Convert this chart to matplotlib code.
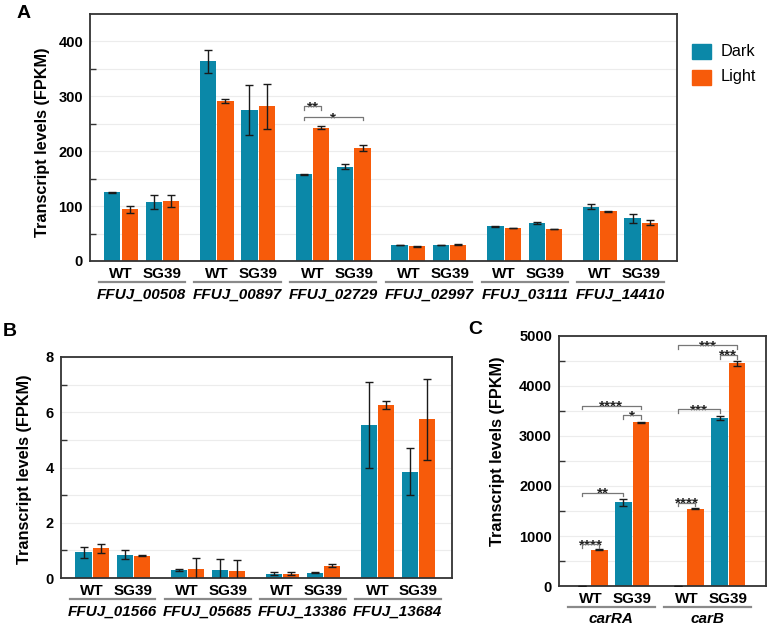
import matplotlib
matplotlib.use("Agg")
import matplotlib.pyplot as plt
import matplotlib.transforms as mtransforms
from matplotlib.patches import Rectangle
from matplotlib.lines import Line2D
import numpy as np

plt.rcParams['font.family'] = ['Liberation Sans', 'DejaVu Sans']

# ---------------- data ----------------
genesA = ['FFUJ_00508', 'FFUJ_00897', 'FFUJ_02729', 'FFUJ_02997', 'FFUJ_03111', 'FFUJ_14410']
A_wt_dark = [125, 364, 158, 29, 63, 99]
A_wt_dark_err = [1.5, 21, 1, 0.5, 0.8, 4]
A_wt_light = [94, 291, 243, 26.5, 60, 91]
A_wt_light_err = [6, 4, 3, 0.5, 0.5, 1]
A_sg_dark = [107, 275, 172, 29, 69, 78]
A_sg_dark_err = [13, 46, 4, 0.5, 2.5, 8]
A_sg_light = [110, 282, 206, 30, 58, 70]
A_sg_light_err = [11, 41, 5, 0.5, 0.5, 4]

genesB = ['FFUJ_01566', 'FFUJ_05685', 'FFUJ_13386', 'FFUJ_13684']
B_wt_dark = [0.93, 0.29, 0.15, 5.53]
B_wt_dark_err = [0.20, 0.05, 0.05, 1.55]
B_wt_light = [1.08, 0.31, 0.15, 6.25]
B_wt_light_err = [0.16, 0.40, 0.05, 0.15]
B_sg_dark = [0.84, 0.30, 0.19, 3.84]
B_sg_dark_err = [0.17, 0.37, 0.01, 0.85]
B_sg_light = [0.80, 0.27, 0.44, 5.75]
B_sg_light_err = [0.02, 0.38, 0.05, 1.47]

genesC = ['carRA', 'carB']
C_wt_dark = [10, 10]
C_wt_dark_err = [0, 0]
C_wt_light = [728, 1549]
C_wt_light_err = [5, 5]
C_sg_dark = [1676, 3365]
C_sg_dark_err = [70, 40]
C_sg_light = [3271, 4453]
C_sg_light_err = [10, 52]

strains = ['WT', 'SG39']
conditions = ['Dark', 'Light']

# significance annotations: (group, bar_from, bar_to, height, label)
sigA = [(2, 0, 1, 282, '**'), (2, 0, 3, 262, '*')]
sigC = [(0, 0, 1, 835, '****'), (0, 0, 2, 1862, '**'), (0, 0, 3, 3604, '****'),
        (0, 2, 3, 3417, '*'), (1, 0, 1, 1669, '****'), (1, 0, 2, 3537, '***'),
        (1, 0, 3, 4812, '***'), (1, 2, 3, 4619, '***')]

# ---------------- style ----------------
C_DARK = '#0B88A8'
C_LIGHT = '#F75B0A'
FRAME = '#333333'
offsets = np.array([-0.3065, -0.1255, 0.1255, 0.3065])
BW = 0.17

W, H = 771, 635
fig = plt.figure(figsize=(W / 100, H / 100), dpi=100)


def ax_px(l, t, r, b):
    return fig.add_axes([l / W, 1 - b / H, (r - l) / W, (b - t) / H])


def draw_panel(ax, genes, series, errs, ylim, grid_step, major_step, xlim, sig, sig_tick):
    x = np.arange(len(genes))
    cols = [C_DARK, C_LIGHT, C_DARK, C_LIGHT]
    for i in range(4):
        ax.bar(x + offsets[i], series[i], width=BW, color=cols[i], zorder=2)
        ax.errorbar(x + offsets[i], series[i], yerr=errs[i], fmt='none',
                    ecolor='#1a1a1a', elinewidth=1.0, capsize=3, capthick=1.0, zorder=3)
    ax.set_xlim(*xlim)
    ax.set_ylim(*ylim)
    ax.set_yticks(np.arange(0, ylim[1] + 1e-9, major_step))
    ax.set_yticks(np.arange(grid_step, ylim[1], major_step), minor=True)
    ax.yaxis.grid(True, which='both', color='#ececec', linewidth=0.8, zorder=0)
    ax.set_axisbelow(True)
    ax.set_xticks([])
    ax.tick_params(axis='y', which='major', length=0, pad=5, labelsize=10.5)
    ax.tick_params(axis='y', which='minor', direction='in', length=4.5, width=1.0, color=FRAME)
    for lab in ax.get_yticklabels():
        lab.set_fontweight('bold')
    for s in ax.spines.values():
        s.set_color(FRAME)
        s.set_linewidth(1.3)
    ax.set_ylabel('Transcript levels (FPKM)', fontsize=11.7, fontweight='bold')

    tr = ax.get_xaxis_transform()
    for gi, g in enumerate(genes):
        for si, st in enumerate(strains):
            pc = gi + (offsets[2 * si] + offsets[2 * si + 1]) / 2
            ax.annotate(st, xy=(pc, 0), xycoords=tr, xytext=(0, -9.2), textcoords='offset points',
                        ha='center', va='center', fontsize=11, fontweight='bold', annotation_clip=False)
        ltr = tr + mtransforms.ScaledTranslation(0, -15.2 / 72, fig.dpi_scale_trans)
        ax.add_line(Line2D([gi - 0.45, gi + 0.45], [0, 0], transform=ltr, color='#8a8a8a',
                           linewidth=1.6, clip_on=False))
        ax.annotate(g, xy=(gi, 0), xycoords=tr, xytext=(0, -24), textcoords='offset points',
                    ha='center', va='center', fontsize=11, fontweight='bold', fontstyle='italic',
                    annotation_clip=False)

    for (g, b0, b1, yv, lab) in sig:
        x0 = g + offsets[b0]
        x1 = g + offsets[b1]
        ax.plot([x0, x0, x1, x1], [yv - sig_tick, yv, yv, yv - sig_tick], color='#777777',
                linewidth=0.9, zorder=4, clip_on=False)
        ax.annotate(lab, xy=((x0 + x1) / 2, yv), xytext=(0, -3.5), textcoords='offset points',
                    ha='center', va='baseline', fontsize=11, fontweight='bold', color='#222222')


# Panel A
axA = ax_px(90, 14, 677, 261)
draw_panel(axA, genesA,
           [A_wt_dark, A_wt_light, A_sg_dark, A_sg_light],
           [A_wt_dark_err, A_wt_light_err, A_sg_dark_err, A_sg_light_err],
           (0, 450), 50, 100, (-0.54, 5.59), sigA, 6)
axA.yaxis.set_label_coords(-0.068, 0.48)

# Panel B
axB = ax_px(61, 357, 452, 578)
draw_panel(axB, genesB,
           [B_wt_dark, B_wt_light, B_sg_dark, B_sg_light],
           [B_wt_dark_err, B_wt_light_err, B_sg_dark_err, B_sg_light_err],
           (0, 8), 1, 2, (-0.544, 3.57), [], 0)
axB.yaxis.set_label_coords(-0.075, 0.493)

# Panel C
axC = ax_px(559, 336, 766, 586)
draw_panel(axC, genesC,
           [C_wt_dark, C_wt_light, C_sg_dark, C_sg_light],
           [C_wt_dark_err, C_wt_light_err, C_sg_dark_err, C_sg_light_err],
           (0, 5000), 500, 1000, (-0.545, 1.608), sigC, 70)
axC.yaxis.set_label_coords(-0.261, 0.54)

# Legend (drawn in figure pixel coordinates)
for (yc, col, lab) in [(51, C_DARK, conditions[0]), (77, C_LIGHT, conditions[1])]:
    fig.add_artist(Rectangle((692 / W, 1 - (yc + 7.5) / H), 19 / W, 15 / H,
                             transform=fig.transFigure, color=col))
    fig.text(721 / W, 1 - yc / H, lab, fontsize=11.7, ha='left', va='center')

# Panel letters
fig.text(24 / W, 1 - 14 / H, 'A', fontsize=14, fontweight='bold', ha='center', va='center')
fig.text(10 / W, 1 - 331 / H, 'B', fontsize=14, fontweight='bold', ha='center', va='center')
fig.text(475 / W, 1 - 330 / H, 'C', fontsize=14, fontweight='bold', ha='center', va='center')

fig.savefig('out.png', dpi=100)
